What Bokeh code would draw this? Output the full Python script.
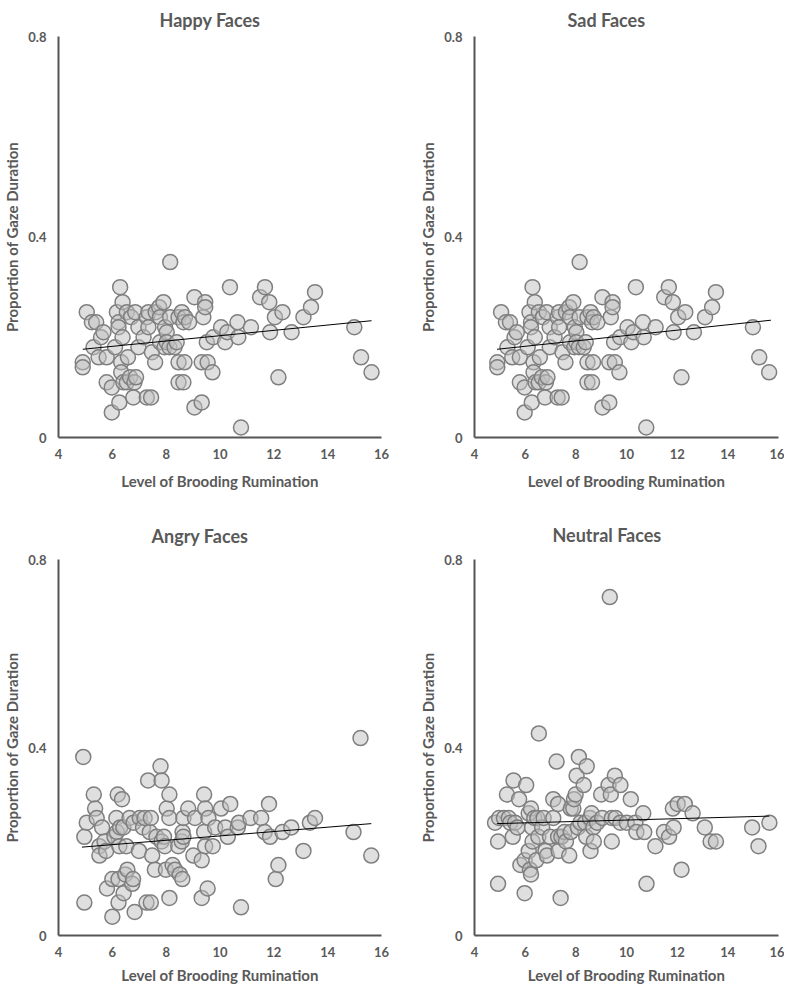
from bokeh.plotting import figure
from bokeh.layouts import column, row
from bokeh.models import FixedTicker
from bokeh.embed import file_html
from bokeh.resources import INLINE

# ---------------- data ----------------
x_ticks = [4, 6, 8, 10, 12, 14, 16]
y_ticks = [0, 0.4, 0.8]
y_tick_labels = {0: "0", 0.4: "0.4", 0.8: "0.8"}

titles = ["Happy Faces", "Sad Faces", "Angry Faces", "Neutral Faces"]
x_label = "Level of Brooding Rumination"
y_label = "Proportion of Gaze Duration"

happy_x = [4.9, 4.9, 5.05, 5.24, 5.4, 5.3, 5.49, 5.58, 5.67, 5.79, 5.79, 5.98, 5.98, 6.1, 6.17, 6.23, 6.23, 6.26, 6.29, 6.33,
           6.33, 6.38, 6.38, 6.41, 6.54, 6.54, 6.58, 6.66, 6.7, 6.78, 6.82, 6.85, 6.88, 6.97, 6.97, 7.16, 7.28, 7.44, 7.28, 7.34,
           7.34, 7.47, 7.59, 7.61, 7.74, 7.77, 7.77, 7.9, 7.94, 7.96, 8.02, 8.02, 8.12, 8.15, 8.15, 8.31, 8.39, 8.46, 8.46, 8.46,
           8.64, 8.58, 8.64, 8.68, 8.7, 8.85, 9.05, 9.05, 9.32, 9.32, 9.38, 9.45, 9.45, 9.51, 9.54, 9.72, 9.75, 10.04, 10.19, 10.27,
           10.37, 10.65, 10.68, 10.78, 11.15, 11.49, 11.67, 11.83, 11.86, 12.04, 12.17, 12.32, 12.66, 13.1, 13.38, 13.53, 14.99, 15.24, 15.63]
happy_y = [0.15, 0.14, 0.25, 0.23, 0.23, 0.18, 0.16, 0.20, 0.21, 0.16, 0.11, 0.10, 0.05, 0.18, 0.25, 0.23, 0.22, 0.07, 0.30, 0.15,
           0.13, 0.27, 0.20, 0.11, 0.25, 0.11, 0.16, 0.12, 0.24, 0.08, 0.11, 0.25, 0.12, 0.22, 0.18, 0.20, 0.08, 0.08, 0.24, 0.25,
           0.22, 0.17, 0.15, 0.25, 0.26, 0.24, 0.19, 0.27, 0.18, 0.22, 0.21, 0.19, 0.18, 0.35, 0.24, 0.18, 0.19, 0.24, 0.15, 0.11,
           0.11, 0.25, 0.23, 0.15, 0.24, 0.23, 0.28, 0.06, 0.07, 0.15, 0.24, 0.27, 0.26, 0.19, 0.15, 0.13, 0.20, 0.22, 0.19, 0.21,
           0.30, 0.23, 0.20, 0.02, 0.22, 0.28, 0.30, 0.27, 0.21, 0.24, 0.12, 0.25, 0.21, 0.24, 0.26, 0.29, 0.22, 0.16, 0.13]
happy_trend_x = [4.9, 15.63]
happy_trend_y = [0.176, 0.233]

# the Sad panel of the reference shows the same point cloud as the Happy panel
sad_x = list(happy_x)
sad_y = list(happy_y)
sad_trend_x = [4.89, 15.7]
sad_trend_y = [0.176, 0.234]

angry_x = [4.92, 4.96, 5.05, 4.96, 5.31, 5.36, 5.42, 5.52, 5.52, 5.62, 5.71, 5.77, 5.8, 6.0, 6.0, 6.08, 6.15, 6.17, 6.2, 6.23,
           6.23, 6.26, 6.29, 6.36, 6.41, 6.42, 6.48, 6.52, 6.56, 6.64, 6.74, 6.77, 6.79, 6.83, 6.99, 7.02, 7.14, 7.2, 7.27, 7.43,
           7.33, 7.39, 7.43, 7.48, 7.58, 7.64, 7.79, 7.83, 7.83, 7.92, 7.95, 7.99, 8.02, 8.12, 8.12, 8.12, 8.24, 8.33, 8.45, 8.51,
           8.6, 8.58, 8.61, 8.64, 8.64, 8.82, 9.01, 9.07, 9.32, 9.32, 9.41, 9.41, 9.45, 9.45, 9.54, 9.57, 9.73, 9.82, 10.04, 10.2,
           10.29, 10.38, 10.66, 10.7, 10.78, 11.13, 11.53, 11.66, 11.82, 11.86, 12.07, 12.17, 12.32, 12.65, 13.1, 13.34, 13.53,
           14.96, 15.22, 15.62]
angry_y = [0.38, 0.21, 0.24, 0.07, 0.30, 0.27, 0.25, 0.19, 0.17, 0.23, 0.20, 0.18, 0.10, 0.12, 0.04, 0.21, 0.25, 0.22, 0.30, 0.12,
           0.07, 0.19, 0.23, 0.29, 0.23, 0.09, 0.13, 0.19, 0.14, 0.25, 0.11, 0.12, 0.24, 0.05, 0.18, 0.25, 0.23, 0.25, 0.07, 0.07,
           0.33, 0.22, 0.25, 0.17, 0.14, 0.21, 0.36, 0.33, 0.20, 0.21, 0.19, 0.14, 0.27, 0.30, 0.08, 0.25, 0.15, 0.14, 0.19, 0.13,
           0.12, 0.20, 0.22, 0.21, 0.25, 0.27, 0.17, 0.25, 0.16, 0.08, 0.30, 0.22, 0.27, 0.19, 0.10, 0.25, 0.19, 0.23, 0.27, 0.23,
           0.21, 0.28, 0.23, 0.24, 0.06, 0.25, 0.25, 0.22, 0.28, 0.21, 0.12, 0.15, 0.22, 0.23, 0.18, 0.24, 0.25,
           0.22, 0.42, 0.17]
angry_trend_x = [4.87, 15.62]
angry_trend_y = [0.188, 0.238]

neutral_x = [4.81, 4.93, 4.93, 4.97, 5.16, 5.28, 5.35, 5.41, 5.54, 5.51, 5.6, 5.69, 5.76, 5.81, 5.98, 5.98, 6.04, 6.14, 6.14, 6.19,
             6.23, 6.23, 6.27, 6.29, 6.36, 6.44, 6.48, 6.52, 6.54, 6.67, 6.73, 6.8, 6.86, 6.98, 7.11, 7.11, 7.24, 7.3, 7.3, 7.32,
             7.4, 7.43, 7.55, 7.61, 7.74, 7.8, 7.8, 7.9, 7.93, 7.99, 8.03, 8.08, 8.12, 8.18, 8.31, 8.37, 8.41, 8.43, 8.56, 8.58,
             8.62, 8.69, 8.71, 8.84, 9.0, 9.04, 9.29, 9.34, 9.38, 9.42, 9.42, 9.54, 9.57, 9.76, 9.76, 10.01, 10.17, 10.35, 10.39,
             10.66, 10.7, 10.79, 11.14, 11.48, 11.68, 11.83, 11.86, 12.02, 12.17, 12.3, 12.61, 13.09, 13.32, 13.53, 14.96, 15.21, 15.64]
neutral_y = [0.24, 0.20, 0.11, 0.25, 0.25, 0.30, 0.25, 0.24, 0.33, 0.21, 0.24, 0.23, 0.29, 0.15, 0.16, 0.09, 0.32, 0.18, 0.26, 0.14,
             0.13, 0.27, 0.23, 0.20, 0.25, 0.16, 0.25, 0.21, 0.43, 0.23, 0.25, 0.18, 0.17, 0.21, 0.25, 0.29, 0.37, 0.28, 0.21, 0.18,
             0.08, 0.21, 0.22, 0.20, 0.17, 0.22, 0.27, 0.27, 0.29, 0.30, 0.34, 0.23, 0.38, 0.24, 0.32, 0.24, 0.21, 0.36, 0.25, 0.18,
             0.26, 0.23, 0.20, 0.24, 0.30, 0.25, 0.32, 0.72, 0.30, 0.25, 0.20, 0.34, 0.25, 0.32, 0.24, 0.24, 0.29, 0.24, 0.22,
             0.26, 0.22, 0.11, 0.19, 0.22, 0.21, 0.27, 0.23, 0.28, 0.14, 0.28, 0.26, 0.23, 0.20, 0.20, 0.23, 0.19, 0.24]
neutral_trend_x = [4.88, 15.64]
neutral_trend_y = [0.238, 0.254]

# ---------------- styling ----------------
FONT = "Lato"
TXT = "#595959"


def make_panel(title, xs, ys, tx, ty, fw, fh, bl, br, bt, bb, t_offset, t_standoff, xl_standoff):
    p = figure(frame_width=fw, frame_height=fh, x_range=(4, 16), y_range=(0, 0.8),
               output_backend="svg", toolbar_location=None,
               min_border_left=bl, min_border_right=br, min_border_top=bt, min_border_bottom=bb,
               background_fill_color="white", border_fill_color="white")
    p.outline_line_color = None
    p.xgrid.visible = False
    p.ygrid.visible = False

    p.title.text = title
    p.title.align = "left"
    p.title.offset = t_offset
    p.title.standoff = t_standoff
    p.title.text_font = FONT
    p.title.text_font_size = "18px"
    p.title.text_font_style = "bold"
    p.title.text_color = TXT

    p.xaxis.ticker = FixedTicker(ticks=x_ticks)
    p.yaxis.ticker = FixedTicker(ticks=y_ticks)
    p.yaxis.major_label_overrides = y_tick_labels
    p.xaxis.axis_label = x_label
    p.yaxis.axis_label = y_label
    for ax in (p.xaxis, p.yaxis):
        ax.major_tick_line_color = None
        ax.minor_tick_line_color = None
        ax.axis_line_color = "#555555"
        ax.axis_line_width = 2
        ax.major_label_text_font = FONT
        ax.major_label_text_font_size = "13px"
        ax.major_label_text_font_style = "bold"
        ax.major_label_text_color = TXT
        ax.axis_label_text_font = FONT
        ax.axis_label_text_font_size = "15px"
        ax.axis_label_text_font_style = "bold"
        ax.axis_label_text_color = TXT
    p.xaxis.major_label_standoff = 5
    p.xaxis.axis_label_standoff = xl_standoff
    p.yaxis.major_label_standoff = 6
    p.yaxis.axis_label_standoff = 4

    p.scatter(xs, ys, size=15, fill_color="#bfbfbf", fill_alpha=0.5,
              line_color="#7f7f7f", line_width=1.5)
    p.line(tx, ty, line_color="black", line_width=1)
    return p


# frame sizes and borders chosen so that the frames land where the reference has them
p1 = make_panel(titles[0], happy_x, happy_y, happy_trend_x, happy_trend_y,
                323, 401, 50, 25, 35, 56, 101, 12, 10)
p2 = make_panel(titles[1], sad_x, sad_y, sad_trend_x, sad_trend_y,
                304, 401, 68, 6, 35, 56, 93, 12, 10)
p3 = make_panel(titles[2], angry_x, angry_y, angry_trend_x, angry_trend_y,
                323, 376, 50, 25, 66, 46, 93, 26, 6)
p4 = make_panel(titles[3], neutral_x, neutral_y, neutral_trend_x, neutral_trend_y,
                304, 376, 68, 6, 66, 46, 78, 28, 6)

layout = column(row(p1, p2), row(p3, p4))

with open("out.html", "w") as f:
    f.write(file_html(layout, INLINE))
